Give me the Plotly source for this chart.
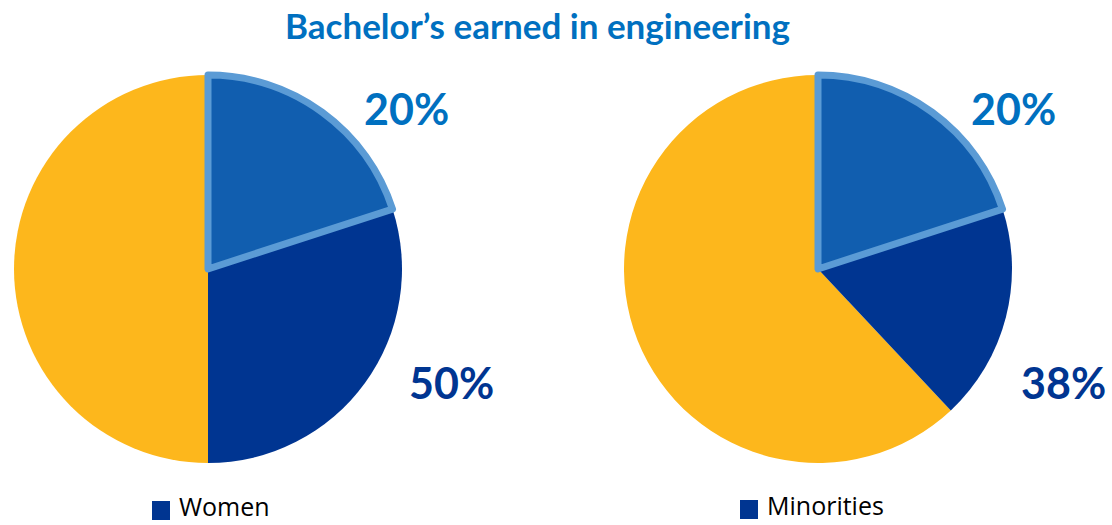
import plotly.graph_objects as go

# Data
slices = ["Other", "Remaining share", "Bachelor's earned"]
women_values = [50, 30, 20]
minorities_values = [62, 18, 20]
pie_names = ["Women", "Minorities"]
outer_labels_women = ["20%", "50%"]
outer_labels_minorities = ["20%", "38%"]

YELLOW = "#FDB71C"
NAVY = "#003591"
MID = "#115EAF"
EDGE = "#5B9BD5"
TITLE_BLUE = "#0070C0"

colors = [YELLOW, NAVY, MID]
line_colors = ["rgba(0,0,0,0)", "rgba(0,0,0,0)", EDGE]
line_widths = [0, 0, 7]

W, H = 1112, 525

def px_dom(x0, x1, y0, y1):
    return dict(x=[x0 / W, x1 / W], y=[(H - y1) / H, (H - y0) / H])

def rot(values):
    return 360 - 360 * values[0] / sum(values)

fig = go.Figure()
fig.add_trace(go.Pie(
    labels=slices, values=women_values, sort=False,
    direction="counterclockwise", rotation=rot(women_values),
    marker=dict(colors=colors, line=dict(color=line_colors, width=line_widths)),
    textinfo="none", hoverinfo="label+value",
    domain=px_dom(14, 402, 75, 463), showlegend=False,
))
fig.add_trace(go.Pie(
    labels=slices, values=minorities_values, sort=False,
    direction="counterclockwise", rotation=rot(minorities_values),
    marker=dict(colors=colors, line=dict(color=line_colors, width=line_widths)),
    textinfo="none", hoverinfo="label+value",
    domain=px_dom(624, 1012, 75, 463), showlegend=False,
))

font_big = "Lato, 'Noto Sans', sans-serif"
anns = []
def ann(x, y, text, color, size, weight="bold", xanchor="center", fam=font_big):
    anns.append(dict(x=x / W, y=(H - y) / H, xref="paper", yref="paper",
                     text=text, showarrow=False, xanchor=xanchor, yanchor="middle",
                     font=dict(family=fam, size=size, color=color, weight=weight)))

ann(537, 25, "Bachelor’s earned in engineering", TITLE_BLUE, 35)
ann(406, 108, outer_labels_women[0], TITLE_BLUE, 43)
ann(451, 383, outer_labels_women[1], NAVY, 43)
ann(1013, 108, outer_labels_minorities[0], TITLE_BLUE, 43)
ann(1063, 383, outer_labels_minorities[1], NAVY, 43)

leg_font = "'Open Sans', 'Noto Sans', sans-serif"
ann(177, 506, pie_names[0], "#000000", 25, weight="normal", xanchor="left", fam=leg_font)
ann(765, 505, pie_names[1], "#000000", 25, weight="normal", xanchor="left", fam=leg_font)

shapes = [
    dict(type="rect", xref="paper", yref="paper", x0=152 / W, x1=170 / W,
         y0=(H - 520) / H, y1=(H - 501) / H, fillcolor=NAVY, line=dict(width=0)),
    dict(type="rect", xref="paper", yref="paper", x0=740 / W, x1=758 / W,
         y0=(H - 519) / H, y1=(H - 500) / H, fillcolor=NAVY, line=dict(width=0)),
]

fig.update_layout(
    width=W, height=H, margin=dict(l=0, r=0, t=0, b=0),
    paper_bgcolor="white", plot_bgcolor="white",
    annotations=anns, shapes=shapes,
)
fig.write_html("out.html", config={"displayModeBar": False},
               post_script="document.body.style.margin='0';document.body.style.padding='0';")
